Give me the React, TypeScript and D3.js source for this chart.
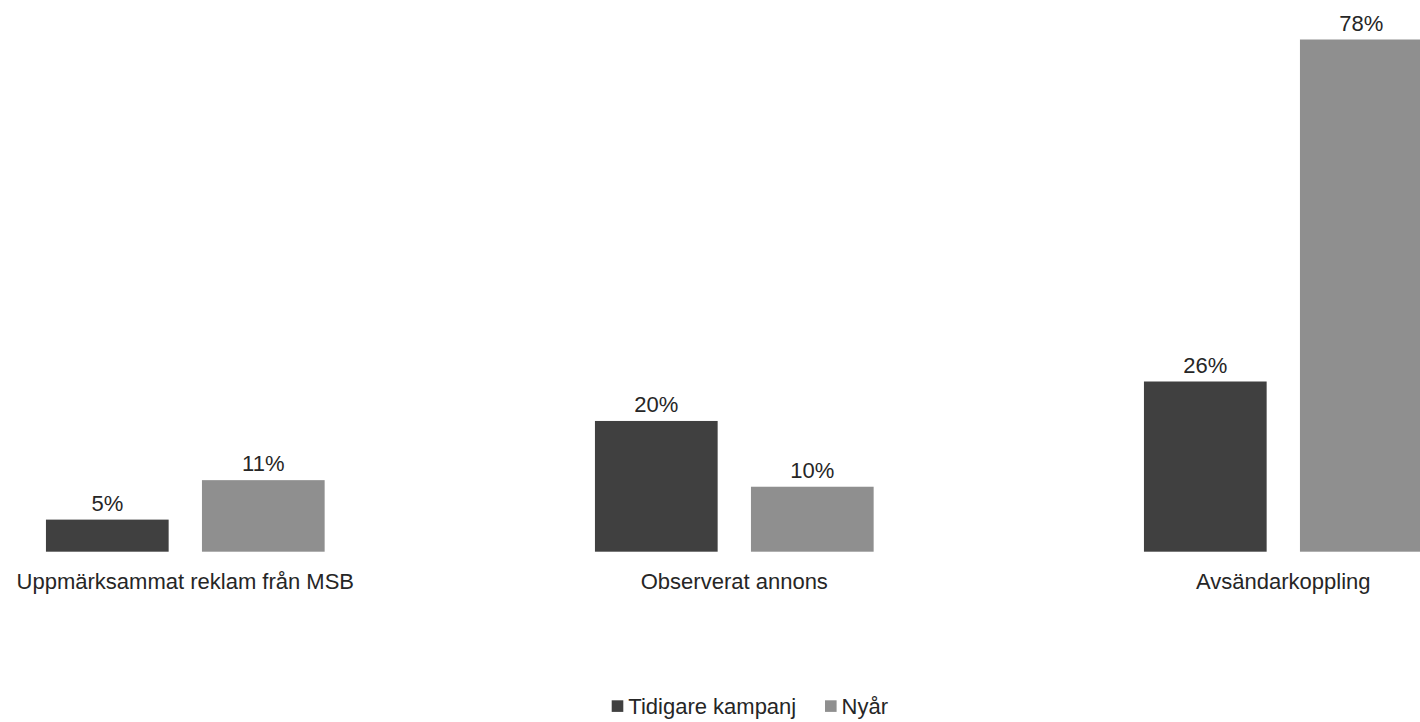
import React from "react";
import * as d3 from "d3";

const categories = ["Uppmärksammat reklam från MSB", "Observerat annons", "Avsändarkoppling"];
const seriesNames = ["Tidigare kampanj", "Nyår"];
const tidigare = [5, 20, 26];
const nyar = [11, 10, 78];
const valueLabels = [["5%", "20%", "26%"], ["11%", "10%", "78%"]];
const colors = ["#404040", "#8f8f8f"];

const W = 1420;
const H = 722;

export default function App() {
  const series = [tidigare, nyar];
  const x = d3.scalePoint<string>().domain(categories).range([185.3, 1283.3]);
  const xs = d3.scaleBand<number>().domain([0, 1]).range([-139.35, 139.35]).paddingInner(0.2135);
  const y = d3.scaleLinear().domain([0, 78]).range([552.5, 39.5]);
  const base = 551.7;
  const font = "'Liberation Sans', Arial, sans-serif";

  // legend
  const legendY = 714;
  const legendItems = [
    { name: seriesNames[0], x: 611.7, color: colors[0] },
    { name: seriesNames[1], x: 825, color: colors[1] },
  ];

  return (
    <svg
      width={W}
      height={H}
      style={{ position: "absolute", left: 0, top: 0, background: "#fff" }}
      fontFamily={font}
    >
      {categories.map((c, i) => (
        <g key={c} transform={`translate(${x(c)},0)`}>
          {series.map((s, j) => {
            const bx = xs(j)!;
            const top = y(s[i]);
            return (
              <g key={j}>
                <rect x={bx} y={top} width={xs.bandwidth()} height={base - top} fill={colors[j]} />
                <text
                  x={bx + xs.bandwidth() / 2}
                  y={top - 9}
                  textAnchor="middle"
                  fontSize={22}
                  fill="#262626"
                >
                  {valueLabels[j][i]}
                </text>
              </g>
            );
          })}
          <text x={0} y={589} textAnchor="middle" fontSize={22} fill="#262626">
            {c}
          </text>
        </g>
      ))}
      {legendItems.map((it) => (
        <g key={it.name}>
          <rect x={it.x} y={700.3} width={11.6} height={11.6} fill={it.color} />
          <text x={it.x + 16.6} y={legendY} fontSize={22} fill="#262626">
            {it.name}
          </text>
        </g>
      ))}
    </svg>
  );
}
